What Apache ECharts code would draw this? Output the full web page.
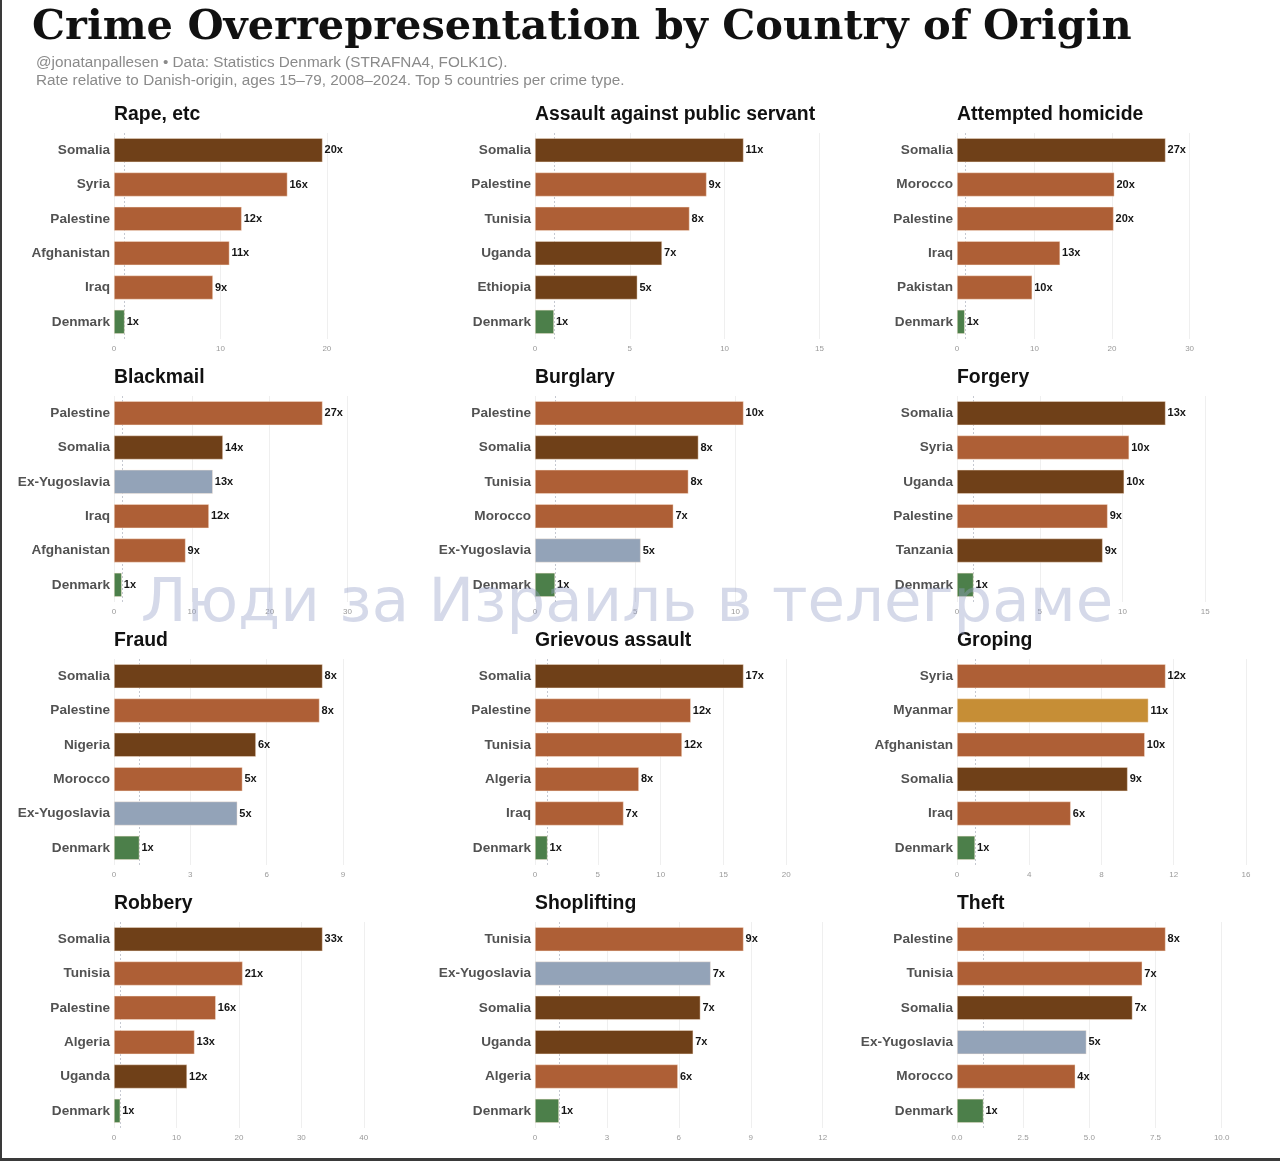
<!DOCTYPE html>
<html>
<head>
<meta charset="utf-8">
<script src="https://cdn.jsdelivr.net/npm/echarts@6/dist/echarts.min.js"></script>
<style>
html,body{margin:0;padding:0;background:#fff;}
#chart{width:1280px;height:1161px;}
</style>
</head>
<body>
<div id="chart"></div>
<script>
// ---- Data ----
const panelTitles = ["Rape, etc", "Assault against public servant", "Attempted homicide",
  "Blackmail", "Burglary", "Forgery",
  "Fraud", "Grievous assault", "Groping",
  "Robbery", "Shoplifting", "Theft"];

const rapeCountries = ["Somalia", "Syria", "Palestine", "Afghanistan", "Iraq", "Denmark"];
const rapeValues = [19.6, 16.3, 12.0, 10.85, 9.3, 1];

const assaultCountries = ["Somalia", "Palestine", "Tunisia", "Uganda", "Ethiopia", "Denmark"];
const assaultValues = [11.0, 9.05, 8.15, 6.7, 5.4, 1];

const homicideCountries = ["Somalia", "Morocco", "Palestine", "Iraq", "Pakistan", "Denmark"];
const homicideValues = [26.9, 20.3, 20.2, 13.3, 9.7, 1];

const blackmailCountries = ["Palestine", "Somalia", "Ex-Yugoslavia", "Iraq", "Afghanistan", "Denmark"];
const blackmailValues = [26.8, 14.0, 12.7, 12.2, 9.2, 1];

const burglaryCountries = ["Palestine", "Somalia", "Tunisia", "Morocco", "Ex-Yugoslavia", "Denmark"];
const burglaryValues = [10.4, 8.15, 7.65, 6.9, 5.27, 1];

const forgeryCountries = ["Somalia", "Syria", "Uganda", "Palestine", "Tanzania", "Denmark"];
const forgeryValues = [12.6, 10.4, 10.1, 9.1, 8.8, 1];

const fraudCountries = ["Somalia", "Palestine", "Nigeria", "Morocco", "Ex-Yugoslavia", "Denmark"];
const fraudValues = [8.2, 8.08, 5.58, 5.05, 4.85, 1];

const grievousCountries = ["Somalia", "Palestine", "Tunisia", "Algeria", "Iraq", "Denmark"];
const grievousValues = [16.6, 12.4, 11.7, 8.27, 7.05, 1];

const gropingCountries = ["Syria", "Myanmar", "Afghanistan", "Somalia", "Iraq", "Denmark"];
const gropingValues = [11.55, 10.6, 10.4, 9.45, 6.3, 1];

const robberyCountries = ["Somalia", "Tunisia", "Palestine", "Algeria", "Uganda", "Denmark"];
const robberyValues = [33.4, 20.6, 16.3, 12.9, 11.7, 1];

const shopliftingCountries = ["Tunisia", "Ex-Yugoslavia", "Somalia", "Uganda", "Algeria", "Denmark"];
const shopliftingValues = [8.7, 7.33, 6.9, 6.6, 5.96, 1];

const theftCountries = ["Palestine", "Tunisia", "Somalia", "Ex-Yugoslavia", "Morocco", "Denmark"];
const theftValues = [7.88, 7.0, 6.63, 4.89, 4.47, 1];

// x-axis tick steps and decimals per panel
const tickSteps = [10, 5, 10, 10, 5, 5, 3, 5, 4, 10, 3, 2.5];
const tickDecimals = [0, 0, 0, 0, 0, 0, 0, 0, 0, 0, 0, 1];

const panelCountries = [rapeCountries, assaultCountries, homicideCountries, blackmailCountries,
  burglaryCountries, forgeryCountries, fraudCountries, grievousCountries, gropingCountries,
  robberyCountries, shopliftingCountries, theftCountries];
const panelValues = [rapeValues, assaultValues, homicideValues, blackmailValues,
  burglaryValues, forgeryValues, fraudValues, grievousValues, gropingValues,
  robberyValues, shopliftingValues, theftValues];

// ---- Styling ----
const C_DARK = '#6F4018', C_ORANGE = '#AE5F36', C_GREEN = '#4C7F4A', C_GREY = '#93A3B8', C_GOLD = '#C68E36';
const colorOf = {
  Somalia: C_DARK, Uganda: C_DARK, Ethiopia: C_DARK, Tanzania: C_DARK, Nigeria: C_DARK,
  Syria: C_ORANGE, Palestine: C_ORANGE, Afghanistan: C_ORANGE, Iraq: C_ORANGE, Tunisia: C_ORANGE,
  Morocco: C_ORANGE, Pakistan: C_ORANGE, Algeria: C_ORANGE,
  "Ex-Yugoslavia": C_GREY, Myanmar: C_GOLD, Denmark: C_GREEN
};

const colLeft = [114, 535, 957];
const plotW = 292;
const rowTop0 = 133, rowStep = 263, plotH = 206;
const FONT = 'Liberation Sans, Arial, Helvetica, sans-serif';

const grids = [], xAxes = [], yAxes = [], series = [], titles = [];

titles.push({
  text: 'Crime Overrepresentation by Country of Origin',
  left: 32, top: 7, padding: 0,
  textStyle: { fontFamily: 'DejaVu Serif', fontWeight: 'bold', fontSize: 41.5, color: '#111' }
});
titles.push({
  text: '@jonatanpallesen • Data: Statistics Denmark (STRAFNA4, FOLK1C).\nRate relative to Danish-origin, ages 15–79, 2008–2024. Top 5 countries per crime type.',
  left: 36, top: 54, padding: 0,
  textStyle: { fontFamily: FONT, fontWeight: 'normal', fontSize: 15.3, color: '#8a8a8a', lineHeight: 18 }
});

for (let i = 0; i < 12; i++) {
  const row = Math.floor(i / 3), col = i % 3;
  const top = rowTop0 + rowStep * row;
  const vals = panelValues[i];
  const cats = panelCountries[i];
  const step = tickSteps[i];
  const dec = tickDecimals[i];
  const xmax = Math.max.apply(null, vals) * 1.4;

  titles.push({
    text: panelTitles[i], left: colLeft[col], top: top - 28, padding: 0,
    textStyle: { fontFamily: FONT, fontWeight: 'bold', fontSize: 19.4, color: '#111' }
  });

  grids.push({ left: colLeft[col], top: top, width: plotW, height: plotH, containLabel: false });

  xAxes.push({
    type: 'value', gridIndex: i, min: 0, max: xmax, interval: step,
    axisLine: { show: false }, axisTick: { show: false }, splitLine: { show: false },
    axisLabel: {
      fontFamily: FONT, fontSize: 8, color: '#9a9a9a', margin: 6, showMaxLabel: false,
      formatter: function (v) {
        const k = v / step;
        if (Math.abs(k - Math.round(k)) > 1e-6) return '';
        return v.toFixed(dec);
      }
    }
  });

  yAxes.push({
    type: 'category', gridIndex: i, data: cats, inverse: true,
    axisLine: { show: false }, axisTick: { show: false }, splitLine: { show: false },
    axisLabel: { fontFamily: FONT, fontWeight: 'bold', fontSize: 13.6, color: '#525252', margin: 4 }
  });

  const gridVals = [];
  for (let v = 0; v <= xmax + 1e-9; v += step) gridVals.push(v);

  series.push({
    type: 'bar', xAxisIndex: i, yAxisIndex: i, z: 3,
    barCategoryGap: '30%',
    data: vals.map((v, j) => ({
      value: v,
      itemStyle: { color: colorOf[cats[j]], borderColor: 'rgba(255,235,220,0.7)', borderWidth: 0.6 }
    })),
    label: {
      show: true, position: 'right', distance: 2,
      fontFamily: FONT, fontWeight: 'bold', fontSize: 11, color: '#151515',
      formatter: p => Math.round(p.value) + 'x'
    },
    markLine: {
      silent: true, symbol: 'none', z: 1, animation: false,
      label: { show: false },
      data: gridVals.map(v => ({ xAxis: v, lineStyle: { color: '#ebebeb', width: 0.8, type: 'solid' } }))
        .concat([{ xAxis: 1, lineStyle: { color: '#b8bcc6', width: 0.8, type: [2, 2] } }])
    },
    animation: false
  });
}

const chart = echarts.init(document.getElementById('chart'), null, { renderer: 'canvas' });
chart.setOption({
  backgroundColor: '#ffffff',
  animation: false,
  title: titles,
  grid: grids,
  xAxis: xAxes,
  yAxis: yAxes,
  series: series,
  graphic: [
    { type: 'rect', z: 100, shape: { x: 0, y: 0, width: 2, height: 1161 }, style: { fill: '#3a3a3a' } },
    { type: 'rect', z: 100, shape: { x: 0, y: 1158, width: 1280, height: 3 }, style: { fill: '#3a3a3a' } },
    {
      type: 'text', z: 100, x: 627, y: 605,
      style: {
        text: 'Люди за Израиль в телеграме', fontFamily: 'DejaVu Sans, Noto Sans, sans-serif',
        fontSize: 61, fontWeight: 'normal', fill: 'rgba(150,160,200,0.40)',
        align: 'center', verticalAlign: 'middle'
      }
    }
  ]
});
</script>
</body>
</html>
